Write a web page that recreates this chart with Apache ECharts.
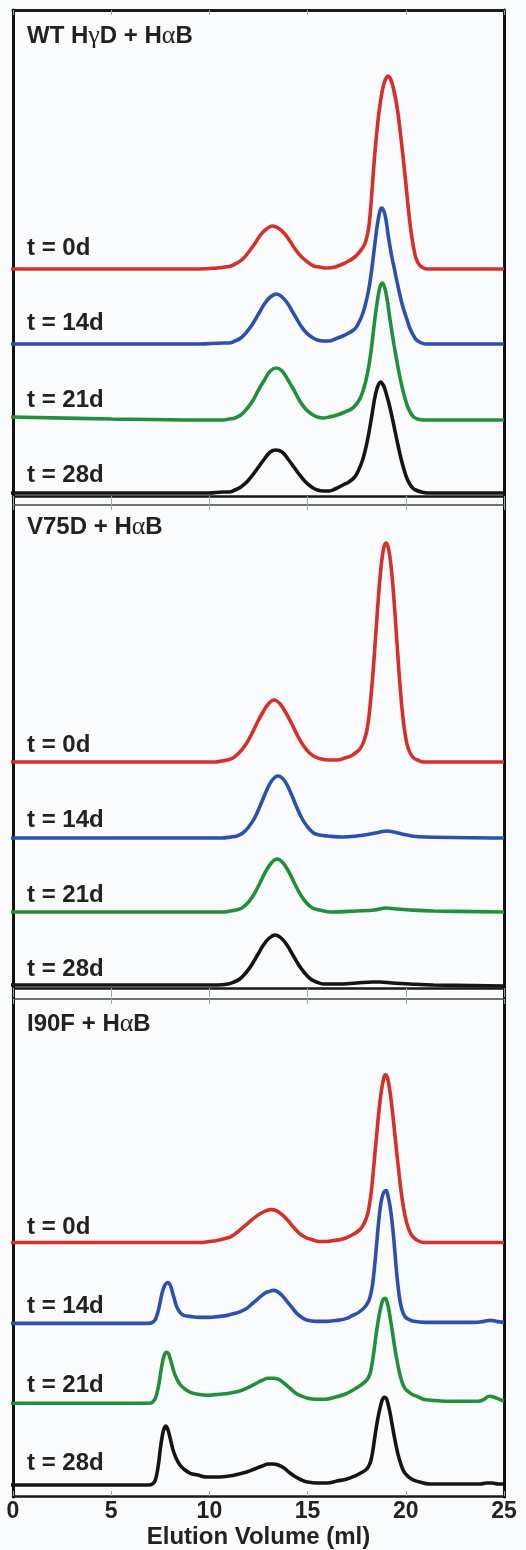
<!DOCTYPE html>
<html>
<head>
<meta charset="utf-8">
<script src="https://cdn.jsdelivr.net/npm/echarts@6/dist/echarts.min.js"></script>
<style>
html, body { margin: 0; padding: 0; background: #fafbfd; }
#chart { width: 526px; height: 1550px; }
</style>
</head>
<body>
<div id="chart"></div>
<script>
// ==================== DATA ====================
// Greek letters are wrapped as {g|..} so they can use a different font
const panelTitles = ['WT H{g|γ}D + H{g|α}B', 'V75D + H{g|α}B', 'I90F + H{g|α}B'];
const dayLabels = ['t = 0d', 't = 14d', 't = 21d', 't = 28d'];
const xTickStep = 5;
const xMin = 0, xMax = 25;

// [elution volume (ml), signal above baseline]
const wt0 = [[-0.15,0],[9.5,0],[10.4,1],[10.8,2],[11.1,3],[11.4,6],[11.7,10],[12.0,17],[12.3,25],[12.6,34],[12.9,40],[13.2,43],[13.5,41],[13.8,36],[14.1,28],[14.4,19],[14.7,12],[15.0,7],[15.3,3],[15.6,2],[16.0,1],[16.4,2],[16.8,5],[17.1,8],[17.4,12],[17.6,16],[17.8,21],[17.95,27],[18.1,40],[18.2,58],[18.3,84],[18.4,110],[18.5,132],[18.6,151],[18.7,166],[18.8,178],[18.9,186],[19.0,191],[19.1,193],[19.2,191],[19.3,186],[19.4,178],[19.5,168],[19.6,156],[19.7,140],[19.8,123],[19.9,105],[20.0,86],[20.1,66],[20.2,48],[20.3,33],[20.4,21],[20.5,12],[20.6,7],[20.7,4],[20.9,1],[21.1,0],[25,0]];
const wt14 = [[-0.15,0],[9.5,0],[10.7,1],[11.0,1],[11.3,3],[11.6,6],[11.9,12],[12.2,20],[12.5,30],[12.8,40],[13.1,47],[13.42,50],[13.7,47],[14.0,40],[14.3,30],[14.6,20],[14.9,12],[15.2,7],[15.5,4],[15.8,3],[16.1,3],[16.4,5],[16.8,8],[17.1,11],[17.4,15],[17.6,21],[17.8,30],[17.95,40],[18.1,53],[18.25,72],[18.4,96],[18.5,112],[18.6,125],[18.7,134],[18.78,136],[18.9,132],[19.0,123],[19.1,109],[19.2,97],[19.3,86],[19.4,77],[19.5,67],[19.6,58],[19.7,49],[19.8,41],[19.9,34],[20.0,28],[20.1,22],[20.2,16],[20.35,10],[20.5,5],[20.7,2],[21.0,0],[25,0]];
const wt21 = [[-0.15,3],[5,1],[9.5,0],[10.6,0],[11.0,1],[11.3,2],[11.6,5],[11.9,11],[12.2,19],[12.5,30],[12.8,40],[13.1,49],[13.42,52],[13.7,49],[14.0,40],[14.3,30],[14.6,19],[14.9,11],[15.2,6],[15.5,3],[15.8,2],[16.1,3],[16.5,5],[16.9,8],[17.3,12],[17.6,19],[17.8,28],[17.95,38],[18.1,52],[18.25,72],[18.4,97],[18.5,112],[18.6,125],[18.7,134],[18.8,137],[18.9,134],[19.0,126],[19.1,114],[19.2,100],[19.3,87],[19.4,75],[19.5,64],[19.6,53],[19.7,43],[19.8,34],[19.9,26],[20.0,19],[20.1,13],[20.25,7],[20.4,3],[20.6,1],[20.9,0],[25,0]];
const wt28 = [[-0.15,0],[10,0],[10.7,1],[11.0,1],[11.3,3],[11.6,6],[11.9,11],[12.2,18],[12.5,26],[12.8,34],[13.1,41],[13.38,43],[13.7,41],[14.0,34],[14.3,26],[14.6,18],[14.9,11],[15.2,6],[15.5,3],[15.8,2],[16.1,2],[16.4,4],[16.8,8],[17.1,11],[17.4,16],[17.6,23],[17.8,33],[17.95,44],[18.1,58],[18.25,75],[18.4,93],[18.5,102],[18.6,108],[18.72,111],[18.85,108],[18.95,103],[19.05,96],[19.15,89],[19.3,76],[19.45,62],[19.6,48],[19.75,35],[19.9,24],[20.05,15],[20.2,9],[20.35,5],[20.5,3],[20.8,1],[21.1,0],[25,0]];

const v0 = [[-0.15,0],[9.5,0],[10.3,0],[10.6,1],[10.9,2],[11.2,4],[11.5,9],[11.8,16],[12.1,26],[12.4,38],[12.7,49],[13.0,58],[13.3,62],[13.6,58],[13.9,49],[14.2,38],[14.5,26],[14.8,16],[15.1,9],[15.4,5],[15.7,3],[16.1,2],[16.5,2],[16.9,4],[17.2,6],[17.5,10],[17.7,14],[17.85,20],[18.0,30],[18.1,42],[18.2,60],[18.3,82],[18.4,108],[18.5,136],[18.6,163],[18.7,187],[18.8,205],[18.9,216],[19.0,219],[19.1,215],[19.2,204],[19.3,186],[19.4,162],[19.5,134],[19.6,105],[19.7,78],[19.8,55],[19.9,37],[20.0,24],[20.1,15],[20.25,8],[20.4,4],[20.6,2],[20.9,0],[25,0]];
const v14 = [[-0.15,0],[9.5,0],[10.6,0],[11.1,1],[11.4,2],[11.7,5],[12.0,11],[12.3,20],[12.6,33],[12.9,47],[13.2,58],[13.5,62],[13.8,58],[14.1,47],[14.4,33],[14.7,20],[15.0,11],[15.3,5],[15.6,3],[16.0,2],[16.8,1],[17.5,2],[18.2,4],[18.7,6],[19.05,7],[19.4,6],[19.8,4],[20.3,2],[21.0,1],[25,0]];
const v21 = [[-0.15,0],[10,0],[10.7,0],[11.05,1],[11.35,2],[11.65,4],[11.95,9],[12.25,17],[12.55,28],[12.85,40],[13.15,49],[13.45,53],[13.75,49],[14.05,40],[14.35,28],[14.65,17],[14.95,9],[15.25,4],[15.6,2],[16.2,0],[17.5,1],[18.4,2],[19.0,4],[19.5,3],[20.2,2],[21.4,1],[25,0]];
const v28 = [[-0.15,0],[10.4,0],[10.95,1],[11.25,3],[11.55,6],[11.85,12],[12.15,20],[12.45,30],[12.75,40],[13.05,47],[13.35,50],[13.65,47],[13.95,40],[14.25,30],[14.55,20],[14.85,12],[15.15,6],[15.45,3],[15.8,1],[16.5,1],[17.5,2],[18.3,3],[18.7,3],[19.3,2],[20.2,1],[21.4,0],[25,-1]];

const i0 = [[-0.15,0],[9.5,0],[10.0,1],[10.4,2],[10.8,4],[11.1,6],[11.4,10],[11.7,15],[12.0,20],[12.3,25],[12.6,29],[12.9,32],[13.15,33],[13.4,32],[13.7,28],[14.0,22],[14.3,15],[14.6,9],[14.9,5],[15.2,3],[15.6,1],[16.0,1],[16.3,2],[16.7,3],[17.0,5],[17.3,8],[17.55,11],[17.75,15],[17.9,20],[18.05,28],[18.15,38],[18.25,52],[18.35,72],[18.45,94],[18.55,115],[18.65,135],[18.75,151],[18.85,162],[18.95,168],[19.05,166],[19.15,157],[19.25,143],[19.35,126],[19.45,107],[19.55,88],[19.65,70],[19.75,53],[19.85,39],[19.95,28],[20.1,16],[20.25,9],[20.4,5],[20.6,2],[20.9,0],[25,0]];
const i14 = [[-0.15,0],[6.9,0],[7.1,1],[7.25,4],[7.4,13],[7.5,22],[7.6,31],[7.7,37],[7.8,40],[7.88,41],[7.96,40],[8.05,36],[8.15,29],[8.25,22],[8.35,16],[8.5,11],[8.7,8],[9.0,7],[9.5,6],[10.0,6],[10.5,7],[10.9,8],[11.3,10],[11.6,12],[11.9,15],[12.2,20],[12.5,25],[12.8,30],[13.05,32],[13.25,33],[13.45,32],[13.7,28],[13.95,22],[14.2,16],[14.45,10],[14.7,6],[15.0,3],[15.4,2],[16.0,2],[16.5,3],[17.0,5],[17.3,8],[17.6,11],[17.9,16],[18.1,22],[18.2,28],[18.3,38],[18.4,55],[18.5,76],[18.6,98],[18.7,116],[18.8,127],[18.9,132],[19.0,133],[19.1,127],[19.2,117],[19.3,102],[19.4,82],[19.5,58],[19.6,38],[19.7,23],[19.8,14],[19.95,7],[20.15,4],[20.4,2],[21,1],[23.5,1],[24.0,2],[24.3,3],[24.6,2],[25,1]];
const i21 = [[-0.15,0],[6.9,0],[7.1,1],[7.25,5],[7.4,16],[7.5,28],[7.6,40],[7.7,48],[7.8,51],[7.9,50],[8.0,45],[8.1,38],[8.2,31],[8.35,24],[8.5,19],[8.7,15],[9.0,11],[9.4,9],[9.9,8],[10.5,9],[11.0,10],[11.5,12],[11.9,15],[12.3,19],[12.7,23],[13.0,25],[13.25,25],[13.5,24],[13.8,20],[14.1,15],[14.4,10],[14.7,7],[15.0,5],[15.4,4],[15.9,4],[16.4,6],[16.9,9],[17.3,13],[17.7,18],[18.0,23],[18.15,28],[18.25,36],[18.35,48],[18.45,63],[18.55,77],[18.65,89],[18.75,98],[18.85,104],[18.95,105],[19.05,101],[19.15,92],[19.25,80],[19.35,67],[19.45,54],[19.55,43],[19.65,33],[19.75,25],[19.85,19],[19.95,15],[20.1,12],[20.3,9],[20.55,7],[20.9,4],[21.3,3],[22.0,2],[23.0,2],[23.7,2],[24.0,4],[24.25,7],[24.5,6],[24.75,4],[25,2]];
const i28 = [[-0.15,0],[6.9,0],[7.1,1],[7.25,5],[7.4,20],[7.5,36],[7.6,49],[7.7,57],[7.78,59],[7.86,57],[7.95,51],[8.05,43],[8.15,35],[8.3,27],[8.5,20],[8.7,16],[9.0,12],[9.4,10],[9.9,8],[10.5,8],[11.0,9],[11.5,11],[11.9,13],[12.3,16],[12.7,19],[13.0,21],[13.25,21],[13.5,20],[13.8,17],[14.1,12],[14.4,8],[14.7,5],[15.0,3],[15.5,2],[16.0,2],[16.5,4],[17.0,6],[17.4,9],[17.8,13],[18.05,17],[18.2,23],[18.3,32],[18.4,45],[18.5,58],[18.6,69],[18.7,78],[18.8,85],[18.9,88],[19.0,87],[19.1,81],[19.2,72],[19.3,61],[19.4,50],[19.5,40],[19.6,31],[19.7,24],[19.8,18],[19.95,12],[20.15,8],[20.4,5],[20.7,3],[21.2,1],[22.5,1],[23.8,1],[24.1,2],[24.4,2],[24.7,1],[25,1]];

// vertical stacking offset of each trace (0d, 14d, 21d, 28d)
const wtOffsets = [227, 152, 76, 3];
const v75Offsets = [226, 150, 76, 3];
const i90Offsets = [254, 173, 93, 11];

// ==================== LAYOUT / STYLE ====================
const panels = [
  { traces: [wt0, wt14, wt21, wt28], offsets: wtOffsets, top: 10, height: 486, titleY: 37, labelY: [250, 325, 402, 477] },
  { traces: [v0, v14, v21, v28], offsets: v75Offsets, top: 505, height: 483, titleY: 528, labelY: [747, 822, 897, 971] },
  { traces: [i0, i14, i21, i28], offsets: i90Offsets, top: 999, height: 498, titleY: 1025, labelY: [1229, 1308, 1387, 1465] }
];
const colors = ['#d6302b', '#2c50ad', '#22903a', '#151515'];
const FONT = '"Liberation Sans", Arial, sans-serif';
const textC = '#222';
const L = 13, R = 22;

const chart = echarts.init(document.getElementById('chart'));

const grid = [], xAxis = [], yAxis = [], series = [], graphic = [];
panels.forEach((p, i) => {
  const last = i === panels.length - 1;
  grid.push({ left: L, right: R, top: p.top, height: p.height });
  // bottom axis
  xAxis.push({
    type: 'value', gridIndex: i, min: xMin, max: xMax, interval: xTickStep, position: 'bottom',
    axisLine: { show: true, onZero: false, lineStyle: { color: '#1a1a1a', width: 2.5 } },
    axisTick: { show: true, inside: last, length: last ? 5 : 9, lineStyle: { color: '#9aa', width: 1 } },
    axisLabel: { show: last, color: textC, fontSize: 23, fontWeight: 'bold', fontFamily: FONT, margin: 4 },
    splitLine: { show: false },
    name: last ? 'Elution Volume (ml)' : '', nameLocation: 'middle', nameGap: 29,
    nameTextStyle: { color: textC, fontSize: 24, fontWeight: 'bold', fontFamily: FONT }
  });
  // top axis
  xAxis.push({
    type: 'value', gridIndex: i, min: xMin, max: xMax, interval: xTickStep, position: 'top',
    axisLine: { show: true, onZero: false, lineStyle: { color: i === 0 ? '#1a1a1a' : '#444', width: i === 0 ? 3 : 1.5 } },
    axisTick: { show: true, inside: true, length: 5, lineStyle: { color: '#9aa', width: 1 } },
    axisLabel: { show: false }, splitLine: { show: false }
  });
  yAxis.push({
    type: 'value', gridIndex: i, min: 0, max: p.height,
    axisLine: { show: false }, axisTick: { show: false }, axisLabel: { show: false }, splitLine: { show: false }
  });
  p.traces.forEach((tr, k) => {
    series.push({
      type: 'line', xAxisIndex: i * 2, yAxisIndex: i, clip: false,
      data: tr.map(d => [d[0], d[1] + p.offsets[k]]),
      showSymbol: false, smooth: 0.4,
      lineStyle: { color: colors[k], width: 3.6 }, z: 3 + k
    });
    graphic.push({
      type: 'text', left: 27, top: p.labelY[k] - 14,
      style: { text: dayLabels[k], fill: textC, font: 'bold 24px ' + FONT }
    });
  });
  graphic.push({
    type: 'text', left: 27, top: p.titleY - 14,
    style: {
      text: panelTitles[i], fill: textC,
      fontFamily: FONT, fontSize: 24, fontWeight: 'bold',
      rich: { g: { fill: textC, fontFamily: '"Liberation Serif", serif', fontSize: 26, fontWeight: 'normal' } }
    }
  });
});

// frame grid: continuous left and right borders over all panels
const frameIdx = panels.length;
grid.push({ left: L, right: R, top: 10, bottom: 1550 - 1497 });
xAxis.push({ type: 'value', gridIndex: frameIdx, min: 0, max: 1, show: false });
yAxis.push({
  type: 'value', gridIndex: frameIdx, position: 'left', min: 0, max: 1,
  axisLine: { show: true, lineStyle: { color: '#111', width: 3 } },
  axisTick: { show: false }, axisLabel: { show: false }, splitLine: { show: false }
});
yAxis.push({
  type: 'value', gridIndex: frameIdx, position: 'right', min: 0, max: 1,
  axisLine: { show: true, lineStyle: { color: '#111', width: 3 } },
  axisTick: { show: false }, axisLabel: { show: false }, splitLine: { show: false }
});

chart.setOption({
  backgroundColor: '#fafbfd',
  animation: false,
  grid, xAxis, yAxis, series, graphic
});
</script>
</body>
</html>
